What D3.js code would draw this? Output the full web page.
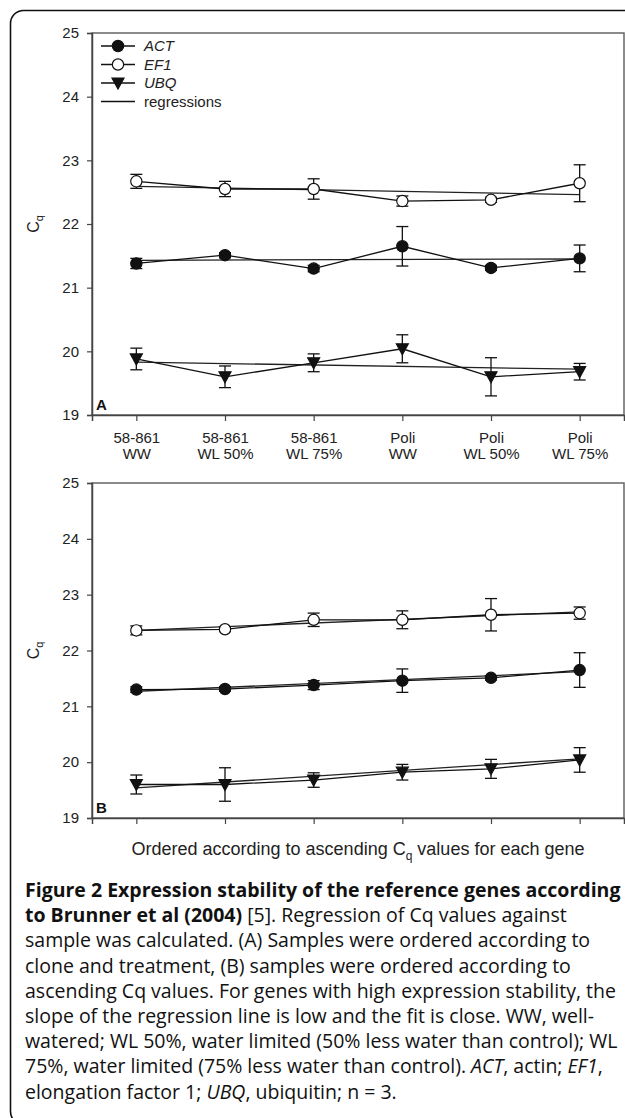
<!DOCTYPE html>
<html>
<head>
<meta charset="utf-8">
<script src="https://cdn.jsdelivr.net/npm/d3@7"></script>
<style>
  body { margin: 0; background: #fff; }
  svg { display: block; }
  .tick text { font-family: "Liberation Sans", Arial, sans-serif; font-size: 15px; fill: #222; }
</style>
</head>
<body>
<div id="viz"></div>
<script>
// sample labels (panel A), two lines each
var sampleClone = ["58-861", "58-861", "58-861", "Poli", "Poli", "Poli"];
var sampleTreat = ["WW", "WL 50%", "WL 75%", "WW", "WL 50%", "WL 75%"];
var yTicks = [19, 20, 21, 22, 23, 24, 25];

// panel A: ordered by clone and treatment
var actA = [21.38, 21.51, 21.30, 21.65, 21.31, 21.46];
var actAErr = [0.08, 0.04, 0.05, 0.31, 0.04, 0.21];
var ef1A = [22.67, 22.55, 22.55, 22.36, 22.38, 22.64];
var ef1AErr = [0.11, 0.12, 0.16, 0.08, 0.04, 0.29];
var ubqA = [19.88, 19.60, 19.82, 20.04, 19.60, 19.68];
var ubqAErr = [0.17, 0.17, 0.14, 0.22, 0.30, 0.13];
// regression lines read at first and last sample
var actARegr = [21.43, 21.45];
var ef1ARegr = [22.59, 22.46];
var ubqARegr = [19.83, 19.72];

// panel B: ordered by ascending Cq
var actB = [21.30, 21.31, 21.38, 21.46, 21.51, 21.65];
var actBErr = [0.05, 0.04, 0.08, 0.21, 0.04, 0.31];
var ef1B = [22.36, 22.38, 22.55, 22.55, 22.64, 22.67];
var ef1BErr = [0.08, 0.04, 0.12, 0.16, 0.29, 0.11];
var ubqB = [19.60, 19.60, 19.68, 19.82, 19.88, 20.04];
var ubqBErr = [0.17, 0.30, 0.13, 0.14, 0.17, 0.22];
var actBRegr = [21.27, 21.62];
var ef1BRegr = [22.36, 22.69];
var ubqBRegr = [19.54, 20.06];

var captionLines = [
  [["b", "Figure 2 Expression stability of the reference genes according"]],
  [["b", "to Brunner et al (2004)"], ["n", " [5]. Regression of Cq values against"]],
  [["n", "sample was calculated. (A) Samples were ordered according to"]],
  [["n", "clone and treatment, (B) samples were ordered according to"]],
  [["n", "ascending Cq values. For genes with high expression stability, the"]],
  [["n", "slope of the regression line is low and the fit is close. WW, well-"]],
  [["n", "watered; WL 50%, water limited (50% less water than control); WL"]],
  [["n", "75%, water limited (75% less water than control). "], ["i", "ACT"], ["n", ", actin; "], ["i", "EF1"], ["n", ","]],
  [["n", "elongation factor 1; "], ["i", "UBQ"], ["n", ", ubiquitin; n = 3."]]
];

var W = 625, H = 1118;
var svg = d3.select("#viz").append("svg")
    .attr("width", W)
    .attr("height", H);

// outer rounded frame (runs off the right and bottom edge)
svg.append("rect")
    .attr("x", 10.5).attr("y", 10.5)
    .attr("width", 660).attr("height", 1114)
    .attr("rx", 13)
    .attr("fill", "none")
    .attr("stroke", "#111")
    .attr("stroke-width", 1.6);

var x = d3.scaleLinear().domain([0.5, 6.5]).range([92, 624]);
var idx = [1, 2, 3, 4, 5, 6];

function drawPanel(top, bottom, letter, series, showLabels) {
    var y = d3.scaleLinear().domain([19, 25]).range([bottom, top]);
    var g = svg.append("g");

    // frame
    g.append("rect")
        .attr("x", x.range()[0]).attr("y", top)
        .attr("width", x.range()[1] - x.range()[0])
        .attr("height", bottom - top)
        .attr("fill", "none")
        .attr("stroke", "#666")
        .attr("stroke-width", 1.5);

    var yAxis = g.append("g")
        .attr("transform", "translate(" + x.range()[0] + ",0)")
        .call(d3.axisLeft(y).tickValues(yTicks).tickSize(5).tickPadding(8).tickFormat(d3.format("d")));
    yAxis.select(".domain").attr("stroke", "#444").attr("stroke-width", 1.5);
    yAxis.selectAll(".tick line").attr("stroke", "#444").attr("stroke-width", 1.2);

    var xAxis = g.append("g")
        .attr("transform", "translate(0," + bottom + ")")
        .call(d3.axisBottom(x).tickValues(idx).tickSize(6).tickFormat(""));
    xAxis.select(".domain").attr("stroke", "#444").attr("stroke-width", 1.5);
    xAxis.selectAll(".tick line").attr("stroke", "#444").attr("stroke-width", 1.2);

    if (showLabels) {
        var lab = xAxis.selectAll(".tick").append("text")
            .attr("fill", "#222")
            .attr("text-anchor", "middle");
        lab.append("tspan").attr("x", 0).attr("y", 28)
            .text(function(d) { return sampleClone[d - 1]; });
        lab.append("tspan").attr("x", 0).attr("y", 44)
            .text(function(d) { return sampleTreat[d - 1]; });
    }

    // y title C_q
    var yt = g.append("text")
        .attr("transform", "translate(39," + ((top + bottom) / 2) + ") rotate(-90)")
        .attr("text-anchor", "middle")
        .attr("font-family", "Liberation Sans, Arial, sans-serif")
        .attr("font-size", 16)
        .attr("fill", "#222");
    yt.append("tspan").text("C");
    yt.append("tspan").attr("font-size", 11).attr("dy", 4).text("q");

    g.append("text")
        .attr("x", x.range()[0] + 4).attr("y", bottom - 5)
        .attr("font-family", "Liberation Sans, Arial, sans-serif")
        .attr("font-weight", "bold")
        .attr("font-size", 15)
        .attr("fill", "#111")
        .text(letter);

    var line = d3.line()
        .x(function(d) { return x(d.i); })
        .y(function(d) { return y(d.v); });

    series.forEach(function(s) {
        var pts = s.values.map(function(v, k) { return { i: idx[k], v: v, e: s.err[k] }; });

        // regression line
        g.append("line")
            .attr("x1", x(idx[0])).attr("y1", y(s.regr[0]))
            .attr("x2", x(idx[idx.length - 1])).attr("y2", y(s.regr[1]))
            .attr("stroke", "#222")
            .attr("stroke-width", 1.3);

        // data line
        g.append("path")
            .datum(pts)
            .attr("d", line)
            .attr("fill", "none")
            .attr("stroke", "#111")
            .attr("stroke-width", 1.3);

        // error bars
        var eb = g.append("g").selectAll("g").data(pts).enter().append("g")
            .attr("stroke", "#111").attr("stroke-width", 1.3);
        eb.append("line")
            .attr("x1", function(d) { return x(d.i); })
            .attr("x2", function(d) { return x(d.i); })
            .attr("y1", function(d) { return y(d.v + d.e); })
            .attr("y2", function(d) { return y(d.v - d.e); });
        eb.append("line")
            .attr("x1", function(d) { return x(d.i) - 6; })
            .attr("x2", function(d) { return x(d.i) + 6; })
            .attr("y1", function(d) { return y(d.v + d.e); })
            .attr("y2", function(d) { return y(d.v + d.e); });
        eb.append("line")
            .attr("x1", function(d) { return x(d.i) - 6; })
            .attr("x2", function(d) { return x(d.i) + 6; })
            .attr("y1", function(d) { return y(d.v - d.e); })
            .attr("y2", function(d) { return y(d.v - d.e); });

        // markers
        g.append("g").selectAll("path").data(pts).enter().append("path")
            .attr("transform", function(d) { return "translate(" + x(d.i) + "," + y(d.v) + ")"; })
            .attr("d", markerPath(s.marker))
            .attr("fill", s.fill)
            .attr("stroke", "#111")
            .attr("stroke-width", 1.2);
    });
    return y;
}

function markerPath(kind) {
    if (kind === "tri") return "M-6,-5L6,-5L0,6Z";
    return d3.symbol().type(d3.symbolCircle).size(100)();
}

var seriesA = [
    { values: ubqA, err: ubqAErr, regr: ubqARegr, marker: "tri", fill: "#111" },
    { values: actA, err: actAErr, regr: actARegr, marker: "circle", fill: "#111" },
    { values: ef1A, err: ef1AErr, regr: ef1ARegr, marker: "circle", fill: "#fff" }
];
var seriesB = [
    { values: ubqB, err: ubqBErr, regr: ubqBRegr, marker: "tri", fill: "#111" },
    { values: actB, err: actBErr, regr: actBRegr, marker: "circle", fill: "#111" },
    { values: ef1B, err: ef1BErr, regr: ef1BRegr, marker: "circle", fill: "#fff" }
];

drawPanel(33, 415, "A", seriesA, true);
drawPanel(483, 818, "B", seriesB, false);

// legend (panel A)
var legendItems = [
    { name: "ACT", marker: "circle", fill: "#111", italic: true },
    { name: "EF1", marker: "circle", fill: "#fff", italic: true },
    { name: "UBQ", marker: "tri", fill: "#111", italic: true },
    { name: "regressions", marker: null, italic: false }
];
var leg = svg.append("g");
legendItems.forEach(function(d, k) {
    var cy = 46 + k * 18.5;
    leg.append("line")
        .attr("x1", 101).attr("x2", 135)
        .attr("y1", cy).attr("y2", cy)
        .attr("stroke", "#111").attr("stroke-width", 1.3);
    if (d.marker) {
        leg.append("path")
            .attr("transform", "translate(118," + cy + ")")
            .attr("d", markerPath(d.marker))
            .attr("fill", d.fill)
            .attr("stroke", "#111")
            .attr("stroke-width", 1.2);
    }
    leg.append("text")
        .attr("x", 144).attr("y", cy + 5)
        .attr("font-family", "Liberation Sans, Arial, sans-serif")
        .attr("font-size", 15)
        .attr("font-style", d.italic ? "italic" : "normal")
        .attr("fill", "#222")
        .text(d.name);
});

// x title panel B
var xt = svg.append("text")
    .attr("x", (x.range()[0] + x.range()[1]) / 2)
    .attr("y", 855)
    .attr("text-anchor", "middle")
    .attr("font-family", "Liberation Sans, Arial, sans-serif")
    .attr("font-size", 18)
    .attr("fill", "#222");
xt.append("tspan").text("Ordered according to ascending C");
xt.append("tspan").attr("font-size", 12).attr("dy", 5).text("q");
xt.append("tspan").attr("dy", -5).text(" values for each gene");

// caption
var cap = svg.append("g")
    .attr("font-family", "Open Sans, sans-serif")
    .attr("font-size", 19.5)
    .attr("fill", "#111");
captionLines.forEach(function(parts, k) {
    var t = cap.append("text").attr("x", 25).attr("y", 897 + k * 25.2);
    parts.forEach(function(p) {
        t.append("tspan")
            .attr("font-weight", p[0] === "b" ? "bold" : "normal")
            .attr("font-style", p[0] === "i" ? "italic" : "normal")
            .text(p[1]);
    });
});
</script>
</body>
</html>
